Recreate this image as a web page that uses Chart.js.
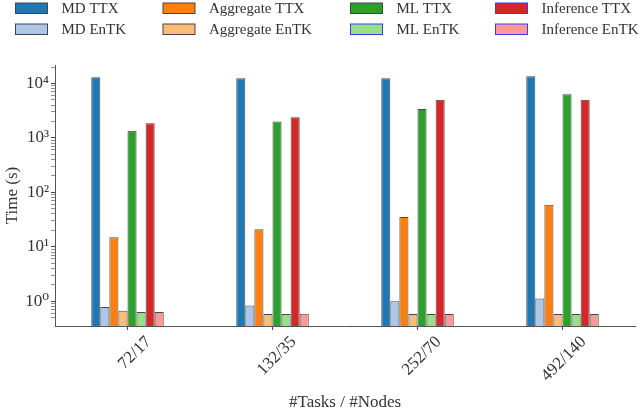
<!DOCTYPE html>
<html>
<head>
<meta charset="utf-8">
<script src="https://cdn.jsdelivr.net/npm/chart.js@4"></script>
<style>
html,body{margin:0;padding:0;background:#fff;}
#wrap{width:640px;height:413px;position:relative;}
</style>
</head>
<body>
<div id="wrap"><canvas id="c" width="640" height="413"></canvas></div>
<script>
const categories = ['72/17', '132/35', '252/70', '492/140'];
const mdTTX   = [13000, 12500, 12500, 13600];
const mdEnTK  = [0.78, 0.83, 1.0, 1.12];
const aggTTX  = [15, 21, 35, 59];
const aggEnTK = [0.67, 0.58, 0.58, 0.58];
const mlTTX   = [1350, 2000, 3400, 6300];
const mlEnTK  = [0.63, 0.58, 0.58, 0.58];
const infTTX  = [1850, 2400, 5000, 5000];
const infEnTK = [0.63, 0.59, 0.58, 0.58];
const yTickLabels = {0:'10\u2070', 1:'10\u00B9', 2:'10\u00B2', 3:'10\u00B3', 4:'10\u2074'};

const FONT = '"Liberation Serif", "DejaVu Serif", serif';
const TEXT = '#333';
const EDGE = 'rgba(0,0,0,0.72)';

const series = [
  {label:'MD TTX', data:mdTTX, color:'#1f77b4', legendEdge:'#444'},
  {label:'MD EnTK', data:mdEnTK, color:'#aec7e8', legendEdge:'#444'},
  {label:'Aggregate TTX', data:aggTTX, color:'#ff7f0e', legendEdge:'#444'},
  {label:'Aggregate EnTK', data:aggEnTK, color:'#ffbb78', legendEdge:'#444'},
  {label:'ML TTX', data:mlTTX, color:'#2ca02c', legendEdge:'#444'},
  {label:'ML EnTK', data:mlEnTK, color:'#98df8a', legendEdge:'#3b3bf5'},
  {label:'Inference TTX', data:infTTX, color:'#d62728', legendEdge:'#3b3bf5'},
  {label:'Inference EnTK', data:infEnTK, color:'#ff9896', legendEdge:'#3b3bf5'}
];

const legendOrder = [0, 2, 4, 6, 1, 3, 5, 7];
const legendCols = [15.5, 163, 350.5, 495.5];
const legendRows = [8, 29];

const legendPlugin = {
  id: 'gridLegend',
  afterDraw(chart) {
    const ctx = chart.ctx;
    ctx.save();
    ctx.font = '15px ' + FONT;
    ctx.textBaseline = 'middle';
    ctx.textAlign = 'left';
    legendOrder.forEach((di, k) => {
      const ds = chart.data.datasets[di];
      const col = k % 4, row = Math.floor(k / 4);
      const x = legendCols[col], y = legendRows[row];
      ctx.fillStyle = ds.backgroundColor;
      ctx.fillRect(x, y - 5, 32, 10.5);
      ctx.strokeStyle = ds.legendEdge;
      ctx.lineWidth = 1;
      ctx.strokeRect(x, y - 5, 32, 10.5);
      ctx.fillStyle = TEXT;
      ctx.fillText(ds.label, x + 46, y + 1);
    });
    ctx.restore();
  }
};

function isPow10(v) {
  const l = Math.log10(v);
  return Math.abs(l - Math.round(l)) < 1e-9;
}
function isNiceLog(v) {
  const e = Math.floor(Math.log10(v) + 1e-9);
  const s = v / Math.pow(10, e);
  return Math.abs(s - Math.round(s)) < 1e-6;
}

new Chart(document.getElementById('c'), {
  type: 'bar',
  data: {
    labels: categories,
    datasets: series.map(s => ({
      label: s.label,
      data: s.data,
      backgroundColor: s.color,
      borderColor: EDGE,
      borderWidth: 1,
      legendEdge: s.legendEdge,
      categoryPercentage: 0.5,
      barPercentage: 1.0
    }))
  },
  options: {
    responsive: false,
    animation: false,
    layout: {padding: {top: 65, right: 5, left: 0, bottom: 0}},
    plugins: {
      legend: {display: false},
      tooltip: {enabled: false}
    },
    scales: {
      x: {
        type: 'category',
        offset: true,
        grid: {
          drawOnChartArea: false,
          offset: false,
          drawTicks: true,
          tickLength: 4,
          tickColor: '#444',
          tickWidth: 1
        },
        border: {display: true, color: '#555', width: 1},
        ticks: {
          color: TEXT,
          font: {family: FONT, size: 17},
          minRotation: 45,
          maxRotation: 45,
          labelOffset: 21,
          padding: 2,
          autoSkip: false
        },
        title: {
          display: true,
          text: '#Tasks / #Nodes',
          color: TEXT,
          font: {family: FONT, size: 17},
          padding: {top: 0, bottom: 0}
        },
        afterFit(scale) { scale.height = 87; }
      },
      y: {
        type: 'logarithmic',
        min: 0.35,
        max: 21800,
        grid: {
          drawOnChartArea: false,
          drawTicks: true,
          tickLength: 4,
          tickColor: ctx => {
            const v = ctx.tick ? ctx.tick.value : null;
            if (v == null || !isNiceLog(v)) return 'rgba(0,0,0,0)';
            return '#444';
          },
          tickWidth: ctx => (ctx.tick && isPow10(ctx.tick.value)) ? 1 : 0.6
        },
        border: {display: true, color: '#555', width: 1},
        ticks: {
          color: TEXT,
          font: {family: FONT, size: 17},
          autoSkip: false,
          padding: 2,
          callback: (v) => {
            if (!isPow10(v)) return '';
            return yTickLabels[Math.round(Math.log10(v))] || '';
          }
        },
        title: {
          display: true,
          text: 'Time (s)',
          color: TEXT,
          font: {family: FONT, size: 17},
          padding: {top: 2, bottom: 0}
        },
        afterFit(scale) { scale.width = 55; }
      }
    }
  },
  plugins: [legendPlugin]
});
</script>
</body>
</html>
